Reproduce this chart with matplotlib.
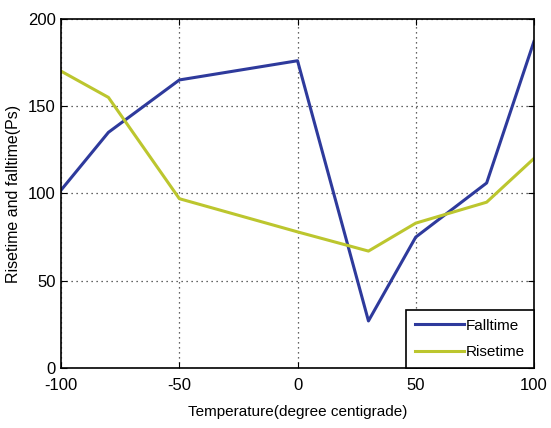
import matplotlib
matplotlib.use("Agg")
import matplotlib.pyplot as plt

temps_fall = [-100, -80, -50, 0, 30, 50, 80, 100]
falltime = [102, 135, 165, 176, 27, 75, 106, 187]
temps_rise = [-100, -80, -50, 0, 30, 50, 80, 100]
risetime = [170, 155, 97, 78, 67, 83, 95, 120]
xticks = [-100, -50, 0, 50, 100]
yticks = [0, 50, 100, 150, 200]

plt.rcParams['font.family'] = ['Liberation Sans', 'DejaVu Sans']
plt.rcParams['axes.unicode_minus'] = False

fig = plt.figure(figsize=(5.51, 4.28), dpi=100)
ax = fig.add_axes([0.111, 0.140, 0.858, 0.816])
ax.plot(temps_fall, falltime, color='#2e3a9c', lw=2.2, label='Falltime')
ax.plot(temps_rise, risetime, color='#bcc62e', lw=2.2, label='Risetime')
ax.set_xlim(-100, 100)
ax.set_ylim(0, 200)
ax.set_xticks(xticks)
ax.set_yticks(yticks)
ax.grid(True, linestyle=(0, (1, 3)), color='#333333', lw=0.9)
ax.tick_params(direction='in', labelsize=12, top=True, right=True, length=4)
ax.tick_params(axis='x', pad=7)
ax.tick_params(axis='y', pad=4)
for s in ax.spines.values():
    s.set_linewidth(1.2)
ax.set_xlabel('Temperature(degree centigrade)', fontsize=11, labelpad=9)
ax.set_ylabel('Risetime and falltime(Ps)', fontsize=11.5, labelpad=5)
leg = ax.legend(loc='lower right', fontsize=11, fancybox=False, framealpha=1,
                edgecolor='black', borderaxespad=0.0, handlelength=3.2,
                handletextpad=0.1, borderpad=0.6, labelspacing=0.8)
leg.get_frame().set_linewidth(1.2)
fig.savefig('out.png', dpi=100)
